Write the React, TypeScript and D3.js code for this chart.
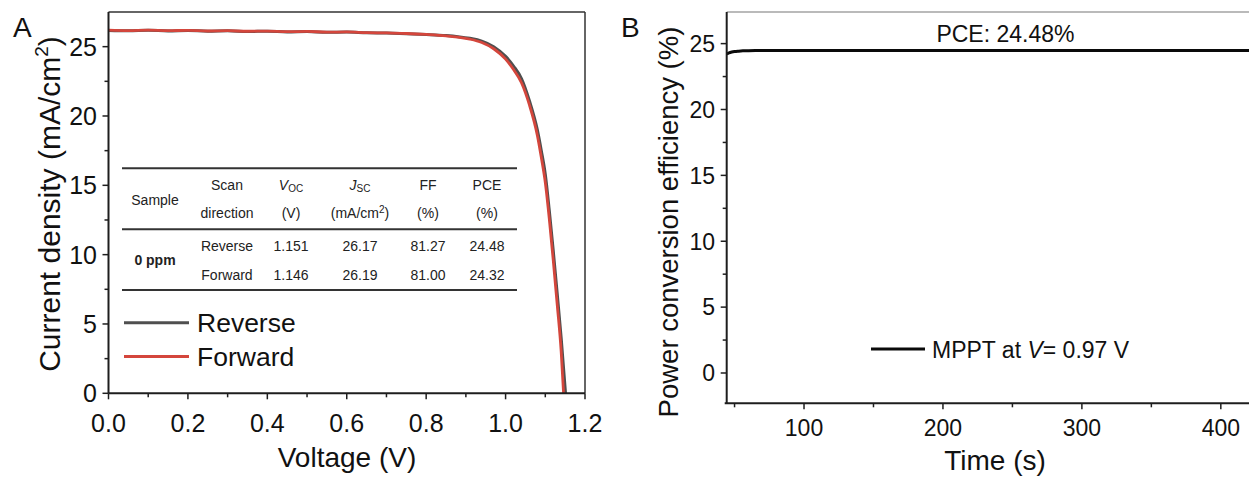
import React from "react";
import * as d3 from "d3";

// ---------- Panel A data (J–V curves) ----------
const voltageRev = [0, 0.05, 0.1, 0.15, 0.2, 0.25, 0.3, 0.35, 0.4, 0.45, 0.5, 0.55, 0.6, 0.65, 0.7, 0.75, 0.8, 0.85, 0.88, 0.91, 0.94, 0.97, 1.0, 1.02, 1.04, 1.06, 1.08, 1.09, 1.1, 1.11, 1.12, 1.13, 1.14, 1.151];
const currentRev = [26.17, 26.14, 26.19, 26.13, 26.17, 26.11, 26.14, 26.09, 26.12, 26.06, 26.09, 26.04, 26.05, 26.0, 25.98, 25.94, 25.88, 25.8, 25.72, 25.6, 25.4, 25.0, 24.3, 23.6, 22.7, 21.1, 19.0, 17.5, 15.8, 13.2, 10.3, 7.2, 4.0, 0];
const voltageFwd = [0, 0.05, 0.1, 0.15, 0.2, 0.25, 0.3, 0.35, 0.4, 0.45, 0.5, 0.55, 0.6, 0.65, 0.7, 0.75, 0.8, 0.85, 0.88, 0.91, 0.94, 0.97, 1.0, 1.02, 1.04, 1.06, 1.08, 1.09, 1.1, 1.11, 1.12, 1.13, 1.14, 1.146];
const currentFwd = [26.19, 26.16, 26.2, 26.15, 26.18, 26.13, 26.15, 26.11, 26.12, 26.08, 26.1, 26.05, 26.06, 26.01, 25.99, 25.95, 25.88, 25.78, 25.68, 25.54, 25.3, 24.85, 24.1, 23.35, 22.4, 20.8, 18.6, 17.0, 15.2, 12.6, 9.6, 6.4, 3.0, 0];
const seriesNamesA = ["Reverse", "Forward"];
const xTicksA = [0, 0.2, 0.4, 0.6, 0.8, 1.0, 1.2];
const xMinorA = [0.1, 0.3, 0.5, 0.7, 0.9, 1.1];
const yTicksA = [0, 5, 10, 15, 20, 25];
const yMinorA = [2.5, 7.5, 12.5, 17.5, 22.5];

// table
const tableSample = "0 ppm";
const tableDirections = ["Reverse", "Forward"];
const tableVoc = ["1.151", "1.146"];
const tableJsc = ["26.17", "26.19"];
const tableFF = ["81.27", "81.00"];
const tablePCE = ["24.48", "24.32"];

// ---------- Panel B data (MPPT) ----------
const timeB = [44.3, 46, 48, 50, 53, 56, 60, 65, 70, 80, 100, 150, 200, 250, 300, 350, 400, 425];
const pceB = [24.22, 24.3, 24.36, 24.4, 24.43, 24.45, 24.46, 24.47, 24.475, 24.48, 24.48, 24.48, 24.48, 24.48, 24.48, 24.48, 24.48, 24.48];
const xTicksB = [100, 200, 300, 400];
const xMinorB = [50, 150, 250, 350];
const yTicksB = [0, 5, 10, 15, 20, 25];
const yMinorB = [2.5, 7.5, 12.5, 17.5, 22.5];

const FONT = "'Liberation Sans', Arial, Helvetica, sans-serif";
const AXIS = "#1e1e1e";

export default function App() {
  // Panel A scales
  const xA = d3.scaleLinear().domain([0, 1.2]).range([108.5, 585]);
  const yA = d3.scaleLinear().domain([0, 27.5]).range([393.3, 12]);
  const lineA = (vs: number[], js: number[]) =>
    d3
      .line<number>()
      .x((_, i) => xA(vs[i]))
      .y((d) => yA(d))
      .curve(d3.curveMonotoneX)(js) || "";

  // Panel B scales
  const xB = d3.scaleLinear().domain([44.35, 421]).range([726.7, 1250]);
  const yB = d3.scaleLinear().domain([-2.3, 27.4]).range([403.3, 12]);
  const lineB =
    d3
      .line<number>()
      .x((_, i) => xB(timeB[i]))
      .y((d) => yB(d))
      .curve(d3.curveMonotoneX)(pceB) || "";

  const fmt1 = d3.format(".1f");
  const tcol = "#222";

  // table layout (inset, pixel positions)
  const tL = 122, tR = 517;
  const colX = { sample: 155, dir: 227, voc: 291, jsc: 360, ff: 428, pce: 487 };

  return (
    <svg
      width={1249}
      height={478}
      style={{ position: "absolute", left: 0, top: 0, background: "#fff" }}
      fontFamily={FONT}
    >
      <rect x={0} y={0} width={1249} height={478} fill="#ffffff" />
      <defs>
        <clipPath id="clipA">
          <rect x={xA(0)} y={yA(27.5)} width={xA(1.2) - xA(0)} height={yA(0) - yA(27.5) + 2} />
        </clipPath>
        <clipPath id="clipB">
          <rect x={xB(44.35)} y={yB(27.4)} width={1249 - xB(44.35)} height={yB(-2.3) - yB(27.4)} />
        </clipPath>
      </defs>

      {/* ================= Panel A ================= */}
      <text x={13} y={37} fontSize={28} fill="#111">A</text>

      {/* frame */}
      <line x1={xA(0)} x2={xA(1.2)} y1={yA(27.5)} y2={yA(27.5)} stroke="#333" strokeWidth={1.5} />
      <line x1={xA(1.2)} x2={xA(1.2)} y1={yA(27.5)} y2={yA(0)} stroke="#333" strokeWidth={1.5} />

      {/* curves */}
      <g clipPath="url(#clipA)">
        <path d={lineA(voltageRev, currentRev)} fill="none" stroke="#4f4f4f" strokeWidth={3} strokeLinejoin="round" />
        <path d={lineA(voltageFwd, currentFwd)} fill="none" stroke="#d4463c" strokeWidth={2.8} strokeLinejoin="round" />
      </g>

      {/* axes */}
      <line x1={xA(0)} x2={xA(1.2)} y1={yA(0)} y2={yA(0)} stroke={AXIS} strokeWidth={2} />
      <line x1={xA(0)} x2={xA(0)} y1={yA(27.5)} y2={yA(0)} stroke={AXIS} strokeWidth={2} />
      {xTicksA.map((t) => (
        <g key={"xa" + t}>
          <line x1={xA(t)} x2={xA(t)} y1={yA(0)} y2={yA(0) + 6} stroke={AXIS} strokeWidth={1.5} />
          <text x={xA(t)} y={432} fontSize={25} textAnchor="middle" fill="#111">{fmt1(t)}</text>
        </g>
      ))}
      {xMinorA.map((t) => (
        <line key={"xam" + t} x1={xA(t)} x2={xA(t)} y1={yA(0)} y2={yA(0) + 4} stroke={AXIS} strokeWidth={1.5} />
      ))}
      {yTicksA.map((t) => (
        <g key={"ya" + t}>
          <line x1={xA(0) - 6} x2={xA(0)} y1={yA(t)} y2={yA(t)} stroke={AXIS} strokeWidth={1.5} />
          <text x={97} y={yA(t)} dy="0.36em" fontSize={25} textAnchor="end" fill="#111">{t}</text>
        </g>
      ))}
      {yMinorA.map((t) => (
        <line key={"yam" + t} x1={xA(0) - 4} x2={xA(0)} y1={yA(t)} y2={yA(t)} stroke={AXIS} strokeWidth={1.5} />
      ))}

      {/* axis titles */}
      <text x={347} y={467} fontSize={28} textAnchor="middle" fill="#111">Voltage (V)</text>
      <text transform="translate(60,204) rotate(-90)" fontSize={30} textAnchor="middle" fill="#111">
        Current density (mA/cm<tspan fontSize={19} dy={-12}>2</tspan><tspan dy={12}>)</tspan>
      </text>

      {/* table */}
      <g fill={tcol} fontSize={14}>
        <line x1={tL} x2={tR} y1={168.3} y2={168.3} stroke="#333" strokeWidth={2} />
        <line x1={tL} x2={tR} y1={229.3} y2={229.3} stroke="#333" strokeWidth={2} />
        <line x1={tL} x2={tR} y1={290} y2={290} stroke="#333" strokeWidth={2} />
        <text x={colX.sample} y={205} textAnchor="middle">Sample</text>
        <text x={colX.dir} y={190} textAnchor="middle">Scan</text>
        <text x={colX.dir} y={218.3} textAnchor="middle">direction</text>
        <text x={colX.voc} y={190} textAnchor="middle">
          <tspan fontStyle="italic">V</tspan><tspan fontSize={10} dy={2}>OC</tspan>
        </text>
        <text x={colX.voc} y={218.3} textAnchor="middle">(V)</text>
        <text x={colX.jsc} y={190} textAnchor="middle">
          <tspan fontStyle="italic">J</tspan><tspan fontSize={10} dy={2}>SC</tspan>
        </text>
        <text x={colX.jsc} y={218.3} textAnchor="middle">
          (mA/cm<tspan fontSize={10} dy={-5}>2</tspan><tspan dy={5}>)</tspan>
        </text>
        <text x={colX.ff} y={190} textAnchor="middle">FF</text>
        <text x={colX.ff} y={218.3} textAnchor="middle">(%)</text>
        <text x={colX.pce} y={190} textAnchor="middle">PCE</text>
        <text x={colX.pce} y={218.3} textAnchor="middle">(%)</text>
        <text x={colX.sample} y={265} textAnchor="middle" fontWeight="bold">{tableSample}</text>
        {tableDirections.map((d, i) => {
          const yy = i === 0 ? 250.7 : 280;
          return (
            <g key={"row" + d}>
              <text x={colX.dir} y={yy} textAnchor="middle">{d}</text>
              <text x={colX.voc} y={yy} textAnchor="middle">{tableVoc[i]}</text>
              <text x={colX.jsc} y={yy} textAnchor="middle">{tableJsc[i]}</text>
              <text x={colX.ff} y={yy} textAnchor="middle">{tableFF[i]}</text>
              <text x={colX.pce} y={yy} textAnchor="middle">{tablePCE[i]}</text>
            </g>
          );
        })}
      </g>

      {/* legend A */}
      {seriesNamesA.map((name, i) => {
        const ly = i === 0 ? 322.7 : 356.5;
        const col = i === 0 ? "#4f4f4f" : "#d4463c";
        return (
          <g key={"lg" + name}>
            <line x1={124} x2={189} y1={ly} y2={ly} stroke={col} strokeWidth={3} />
            <text x={197} y={ly + 9.5} fontSize={26.5} fill="#111">{name}</text>
          </g>
        );
      })}

      {/* ================= Panel B ================= */}
      <text x={621} y={37} fontSize={28} fill="#111">B</text>

      <line x1={xB(44.35)} x2={1249} y1={yB(27.4)} y2={yB(27.4)} stroke="#777" strokeWidth={1.2} />

      <g clipPath="url(#clipB)">
        <path d={lineB} fill="none" stroke="#0a0a0a" strokeWidth={3} />
      </g>

      <line x1={xB(44.35) - 2} x2={1249} y1={yB(-2.3)} y2={yB(-2.3)} stroke={AXIS} strokeWidth={2} />
      <line x1={xB(44.35)} x2={xB(44.35)} y1={yB(27.4)} y2={yB(-2.3)} stroke={AXIS} strokeWidth={2} />
      {xTicksB.map((t) => (
        <g key={"xb" + t}>
          <line x1={xB(t)} x2={xB(t)} y1={yB(-2.3)} y2={yB(-2.3) + 6} stroke={AXIS} strokeWidth={1.5} />
          <text x={xB(t)} y={436} fontSize={23} textAnchor="middle" fill="#111">{t}</text>
        </g>
      ))}
      {xMinorB.map((t) => (
        <line key={"xbm" + t} x1={xB(t)} x2={xB(t)} y1={yB(-2.3)} y2={yB(-2.3) + 4} stroke={AXIS} strokeWidth={1.5} />
      ))}
      {yTicksB.map((t) => (
        <g key={"yb" + t}>
          <line x1={xB(44.35) - 6} x2={xB(44.35)} y1={yB(t)} y2={yB(t)} stroke={AXIS} strokeWidth={1.5} />
          <text x={715} y={yB(t)} dy="0.36em" fontSize={23} textAnchor="end" fill="#111">{t}</text>
        </g>
      ))}
      {yMinorB.map((t) => (
        <line key={"ybm" + t} x1={xB(44.35) - 4} x2={xB(44.35)} y1={yB(t)} y2={yB(t)} stroke={AXIS} strokeWidth={1.5} />
      ))}

      <text x={995} y={470} fontSize={28} textAnchor="middle" fill="#111">Time (s)</text>
      <text transform="translate(678,222) rotate(-90)" fontSize={27.5} textAnchor="middle" fill="#111">
        Power conversion efficiency (%)
      </text>

      <text x={xB(245)} y={42} fontSize={23} textAnchor="middle" fill="#111">PCE: 24.48%</text>

      {/* legend B */}
      <line x1={871} x2={925} y1={349} y2={349} stroke="#0a0a0a" strokeWidth={3} />
      <text x={932} y={358} fontSize={23} fill="#111">
        MPPT at <tspan fontStyle="italic">V</tspan>= 0.97 V
      </text>
    </svg>
  );
}
